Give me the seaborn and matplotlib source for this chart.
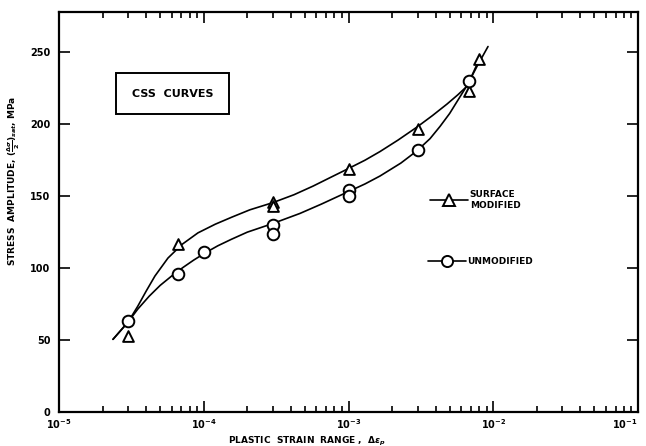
import matplotlib
matplotlib.use('Agg')
import matplotlib.pyplot as plt
import seaborn as sns
from matplotlib.lines import Line2D
from matplotlib.ticker import FixedLocator, NullLocator, LogLocator

# measured points
surf_x = [3e-5, 6.6e-5, 3e-4, 3e-4, 1e-3, 3e-3, 6.8e-3, 8e-3]
surf_y = [53, 117, 146, 143, 169, 197, 223, 245]
unmod_x = [3e-5, 6.6e-5, 1e-4, 3e-4, 3e-4, 1e-3, 1e-3, 3e-3, 6.8e-3]
unmod_y = [63, 96, 111, 130, 124, 154, 150, 182, 230]

# hand-drawn fit curves
surf_curve_x = [2.36e-5, 3.0e-5, 3.5e-5, 4.0e-5, 4.6e-5, 5.66e-5, 7.08e-5, 9.12e-5, 1.2e-4,
                1.57e-4, 2.08e-4, 3.0e-4, 4.2e-4, 5.69e-4, 7.5e-4, 9.9e-4, 1.3e-3, 1.65e-3,
                2.2e-3, 2.97e-3, 3.8e-3, 4.79e-3, 5.7e-3, 6.6e-3, 8.0e-3]
surf_curve_y = [50.5, 62.5, 73.5, 84, 94.5, 107, 116.5, 124.5, 130.5,
                135.5, 140.5, 145.5, 151, 157, 163, 169, 175, 181,
                189, 198, 206, 214, 220.5, 226.5, 245]
unmod_curve_x = [2.36e-5, 3.0e-5, 3.5e-5, 4.2e-5, 5.0e-5, 6.0e-5, 7.2e-5, 8.5e-5, 1.02e-4,
                 1.25e-4, 1.55e-4, 2.0e-4, 2.45e-4, 3.0e-4, 4.62e-4, 6.5e-4, 9.9e-4, 1.3e-3,
                 1.65e-3, 2.3e-3, 2.97e-3, 3.66e-3, 4.29e-3, 5.0e-3, 5.6e-3, 6.6e-3, 7.7e-3, 9.2e-3]
unmod_curve_y = [50.5, 62.5, 71.5, 80.5, 88, 94.5, 100.5, 105.5, 110.5,
                 115.5, 120, 125, 128, 131, 138, 144.5, 153, 158.5,
                 164, 173, 181.5, 190, 198.5, 207.5, 215.5, 227, 240, 254]

xticks = [1e-5, 1e-4, 1e-3, 1e-2, 1e-1]
xtick_labels = ['10$^{-5}$', '10$^{-4}$', '10$^{-3}$', '10$^{-2}$', '10$^{-1}$']
yticks = [0, 50, 100, 150, 200, 250]

sns.set_style('ticks')
plt.rcParams['font.family'] = ['DejaVu Sans']
plt.rcParams['font.weight'] = 'bold'
plt.rcParams['text.color'] = 'black'
plt.rcParams['axes.labelcolor'] = 'black'
plt.rcParams['xtick.color'] = 'black'
plt.rcParams['ytick.color'] = 'black'

fig = plt.figure(figsize=(6.46, 4.46), dpi=100)
ax = fig.add_axes([59/646, 1-412/446, 579/646, 400/446])
ax.set_xscale('log')

sns.lineplot(x=surf_curve_x, y=surf_curve_y, color='black', lw=1.2, sort=False, estimator=None, ax=ax)
sns.lineplot(x=unmod_curve_x, y=unmod_curve_y, color='black', lw=1.2, sort=False, estimator=None, ax=ax)
sns.scatterplot(x=surf_x, y=surf_y, marker='^', s=60, facecolor='white', edgecolor='black',
                linewidth=1.4, zorder=3, ax=ax)
sns.scatterplot(x=unmod_x, y=unmod_y, marker='o', s=70, facecolor='white', edgecolor='black',
                linewidth=1.4, zorder=3, ax=ax)

ax.set_xlim(1e-5, 1e-1)
ax.set_ylim(0, 278)
ax.xaxis.set_major_locator(FixedLocator(xticks))
ax.set_xticklabels(xtick_labels, fontsize=7, fontweight='bold')
ax.get_xticklabels()[-1].set_horizontalalignment('right')
ax.xaxis.set_minor_locator(LogLocator(base=10, subs=range(2, 10)))
ax.set_yticks(yticks)
ax.set_yticklabels([str(v) for v in yticks], fontsize=7, fontweight='bold')
ax.yaxis.set_minor_locator(NullLocator())
ax.tick_params(which='both', direction='in', top=True, right=True, width=1.2, color='black')
ax.tick_params(which='major', length=8, pad=6)
ax.tick_params(axis='x', which='major', pad=4)
ax.tick_params(which='minor', length=4)
for sp in ax.spines.values():
    sp.set_linewidth(1.6)
    sp.set_color('black')

ax.set_xlabel(r'PLASTIC  STRAIN  RANGE ,  $\Delta\epsilon_p$', fontsize=6.5, fontweight='bold')
ax.xaxis.set_label_coords(0.428, -0.056)
ax.set_ylabel(r'STRESS  AMPLITUDE, $(\frac{\Delta\sigma}{2})_{sat}$, MPa',
              fontsize=6.5, fontweight='bold')
ax.yaxis.set_label_coords(-0.064, 0.578)

ax.text(0.196, 0.796, 'CSS  CURVES', transform=ax.transAxes, fontsize=8, fontweight='bold',
        ha='center', va='center',
        bbox=dict(boxstyle='square,pad=1.4', facecolor='white', edgecolor='black', linewidth=1.4))

h1 = Line2D([], [], color='black', lw=1.2, marker='^', ms=8, mfc='white', mec='black', mew=1.4)
h2 = Line2D([], [], color='black', lw=1.2, marker='o', ms=8, mfc='white', mec='black', mew=1.4)
leg1 = ax.legend([h1], ['SURFACE\nMODIFIED'], loc='center left', bbox_to_anchor=(0.641, 0.53),
                 frameon=False, handlelength=4.2, handletextpad=0.2, borderpad=0, borderaxespad=0,
                 prop={'size': 6.5, 'weight': 'bold'})
ax.add_artist(leg1)
ax.legend([h2], ['UNMODIFIED'], loc='center left', bbox_to_anchor=(0.637, 0.375),
          frameon=False, handlelength=4.2, handletextpad=0.2, borderpad=0, borderaxespad=0,
          prop={'size': 6.5, 'weight': 'bold'})

fig.savefig('out.png', dpi=100)
